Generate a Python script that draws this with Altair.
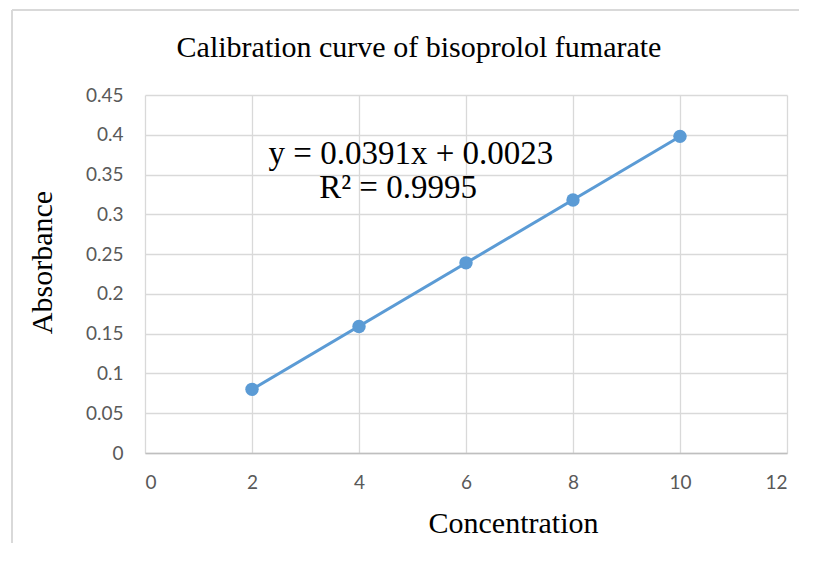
import altair as alt
import pandas as pd

concentration = [2, 4, 6, 8, 10]
absorbance = [0.080, 0.159, 0.239, 0.318, 0.398]

eq_lines = ["y = 0.0391x + 0.0023", "R² = 0.9995"]
eq_x = [4.97, 4.73]
eq_y = [0.363, 0.320]

x_ticks = [0, 2, 4, 6, 8, 10, 12]
y_ticks = [0, 0.05, 0.1, 0.15, 0.2, 0.25, 0.3, 0.35, 0.4, 0.45]

chart_title = "Calibration curve of bisoprolol fumarate"

df = pd.DataFrame({"Concentration": concentration, "Absorbance": absorbance})
ann = pd.DataFrame({"label": eq_lines, "Concentration": eq_x, "Absorbance": eq_y})
title_df = pd.DataFrame({"t": [chart_title]})

BLUE = "#5B9BD5"
W, H = 642, 358

xscale = alt.Scale(domain=[0, 12], nice=False, zero=False)
yscale = alt.Scale(domain=[0, 0.45], nice=False, zero=False)

x_axis = alt.Axis(values=x_ticks, format="d", title="Concentration", titleX=368, titleY=79,
                  titleBaseline="alphabetic", titleAnchor="middle", labelOverlap=False)
y_axis = alt.Axis(values=y_ticks, title="Absorbance", titleX=-103, titleY=167,
                  titleBaseline="middle", titleAngle=-90, titleAnchor="middle",
                  labelOverlap=False,
                  labelExpr="datum.value == 0 ? '0' : format(datum.value, '.2~f')")

x_enc = alt.X("Concentration:Q", scale=xscale, axis=x_axis)
y_enc = alt.Y("Absorbance:Q", scale=yscale, axis=y_axis)

base = alt.Chart(df)

line = base.transform_regression("Concentration", "Absorbance").mark_line(
    color=BLUE, strokeWidth=3
).encode(x=x_enc, y=y_enc)

points = base.mark_point(filled=True, size=180, color=BLUE, opacity=1).encode(
    x=x_enc, y=y_enc
)

text = alt.Chart(ann).mark_text(
    font="Liberation Serif", fontSize=33, color="#000000", baseline="alphabetic", align="center"
).encode(x=x_enc, y=y_enc, text="label:N")

title_mark = alt.Chart(title_df).mark_text(
    font="Liberation Serif", fontSize=30, color="#000000", baseline="alphabetic", align="center"
).encode(x=alt.value(274), y=alt.value(-38), text="t:N")

top_border = alt.Chart(df).mark_rule(color="#d9d9d9", strokeWidth=1.5).encode(
    x=alt.value(-133), x2=alt.value(700), y=alt.value(-85)
)
left_border = alt.Chart(df).mark_rule(color="#d9d9d9", strokeWidth=1.5).encode(
    x=alt.value(-133), y=alt.value(-85), y2=alt.value(500)
)

chart = alt.layer(line, points, text, title_mark, top_border, left_border).properties(
    width=W, height=H,
    autosize=alt.AutoSizeParams(type="none"),
    padding={"left": 137, "top": 87, "right": 12, "bottom": 90},
).configure_view(stroke=None).configure_axis(
    labelFont="Lato", labelFontSize=19, labelColor="#595959",
    titleFont="Liberation Serif", titleFontSize=30, titleFontWeight="normal", titleColor="#000000",
    gridColor="#d9d9d9", gridWidth=1.3, domain=False, ticks=False, labelPadding=22,
).configure_axisX(domain=True, domainColor="#bfbfbf", domainWidth=1.5, labelPadding=20)

chart.save("out.html", embed_options={"renderer": "svg", "actions": False})
